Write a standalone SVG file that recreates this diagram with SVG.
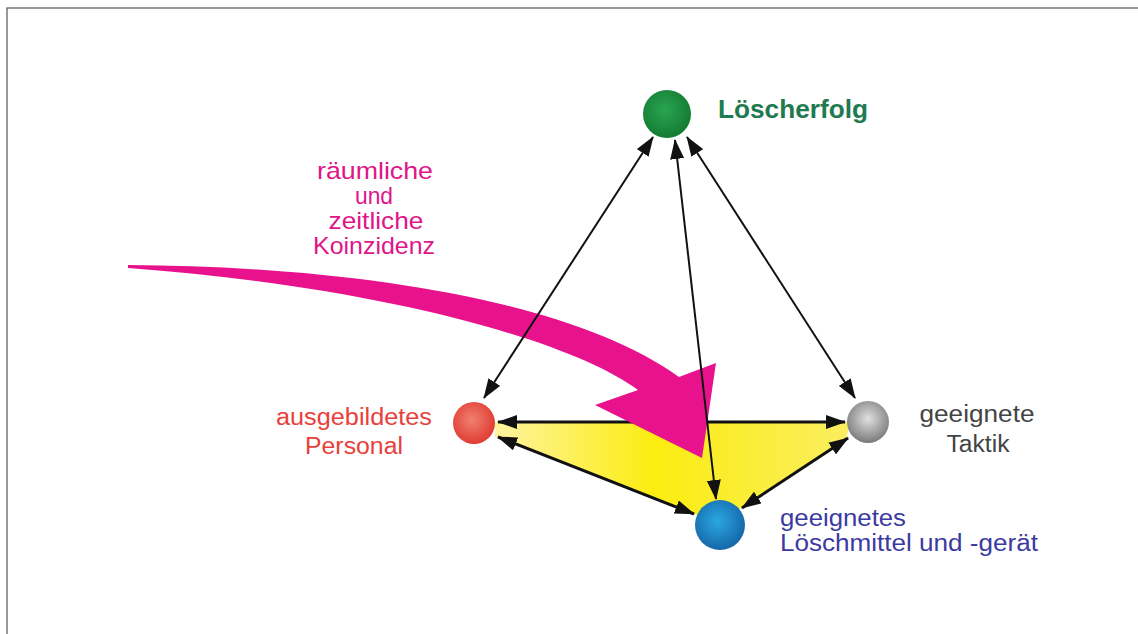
<svg xmlns="http://www.w3.org/2000/svg" width="1138" height="634" viewBox="0 0 1138 634">
  <style>
    .lbl { font-family: "Liberation Sans", Arial, sans-serif; font-size: 23px; }
    .c { stroke: #111; fill: none; }
    .thin { stroke-width: 2; }
    .thick { stroke-width: 3; }
  </style>
  <defs>
    <marker id="ah" viewBox="0 0 20 14" refX="19" refY="7" markerWidth="20" markerHeight="14" markerUnits="userSpaceOnUse" orient="auto-start-reverse">
      <path d="M0,0 L20,7 L0,14 z" fill="#111"/>
    </marker>
    <radialGradient id="gGreen" cx="0.45" cy="0.42" r="0.6">
      <stop offset="0" stop-color="#2aa552"/>
      <stop offset="1" stop-color="#137a30"/>
    </radialGradient>
    <radialGradient id="gRed" cx="0.45" cy="0.42" r="0.6">
      <stop offset="0" stop-color="#f08070"/>
      <stop offset="1" stop-color="#e03a30"/>
    </radialGradient>
    <radialGradient id="gGray" cx="0.5" cy="0.42" r="0.6">
      <stop offset="0" stop-color="#e0e0e0"/>
      <stop offset="1" stop-color="#777"/>
    </radialGradient>
    <radialGradient id="gBlue" cx="0.45" cy="0.42" r="0.6">
      <stop offset="0" stop-color="#2aa8e0"/>
      <stop offset="1" stop-color="#1565a8"/>
    </radialGradient>
    <linearGradient id="gYel" x1="0" y1="0" x2="1" y2="0">
      <stop offset="0" stop-color="#fff4a0"/>
      <stop offset="0.45" stop-color="#fbec10"/>
      <stop offset="1" stop-color="#faee60"/>
    </linearGradient>
  </defs>

  <rect x="7" y="8" width="1140" height="640" fill="#fff" stroke="#555" stroke-width="1.2"/>

  <polygon id="field" points="495,422 850,422 846,440 742,508 700,516 495,437" fill="url(#gYel)"/>

  <g id="connectors">
    <line class="c thick" x1="498" y1="422" x2="845" y2="422" marker-start="url(#ah)" marker-end="url(#ah)"/>
    <path id="coincidence-arrow" fill="#e8138c" d="M128,265 C330,266 565,295 679,377 L716,363 L702,458 L595,405 L638,390 C570,340 380,287 128,268 Z"/>
    <line class="c thin" x1="653" y1="137" x2="484" y2="398" marker-start="url(#ah)" marker-end="url(#ah)"/>
    <line class="c thin" x1="675" y1="140" x2="716" y2="499" marker-start="url(#ah)" marker-end="url(#ah)"/>
    <line class="c thin" x1="687" y1="137" x2="855" y2="398" marker-start="url(#ah)" marker-end="url(#ah)"/>
    <line class="c thick" x1="498" y1="437" x2="694" y2="514" marker-start="url(#ah)" marker-end="url(#ah)"/>
    <line class="c thick" x1="848" y1="438" x2="742" y2="508" marker-start="url(#ah)" marker-end="url(#ah)"/>
  </g>

  <g id="node-loescherfolg">
    <circle cx="667" cy="114" r="24" fill="url(#gGreen)"/>
    <text x="718" y="118" class="lbl" style="font-size:26px;font-weight:bold" fill="#1f7a4f" textLength="150" lengthAdjust="spacingAndGlyphs">Löscherfolg</text>
  </g>
  <g id="node-personal">
    <circle cx="474" cy="423" r="21" fill="url(#gRed)"/>
    <text x="354" y="425" class="lbl" text-anchor="middle" fill="#e8403a" textLength="156" lengthAdjust="spacingAndGlyphs">ausgebildetes</text>
    <text x="354" y="454" class="lbl" text-anchor="middle" fill="#e8403a" textLength="98" lengthAdjust="spacingAndGlyphs">Personal</text>
  </g>
  <g id="node-taktik">
    <circle cx="868" cy="422" r="21" fill="url(#gGray)"/>
    <text x="977" y="422" class="lbl" text-anchor="middle" fill="#444" textLength="115" lengthAdjust="spacingAndGlyphs">geeignete</text>
    <text x="978" y="452" class="lbl" text-anchor="middle" fill="#444" textLength="63" lengthAdjust="spacingAndGlyphs">Taktik</text>
  </g>
  <g id="node-loeschmittel">
    <circle cx="720" cy="525" r="25" fill="url(#gBlue)"/>
    <text x="780" y="526" class="lbl" fill="#3b3aa3" textLength="126" lengthAdjust="spacingAndGlyphs">geeignetes</text>
    <text x="780" y="551" class="lbl" fill="#3b3aa3" textLength="258" lengthAdjust="spacingAndGlyphs">Löschmittel und -gerät</text>
  </g>
  <g id="label-koinzidenz" style="font-size:24px">
    <text x="375" y="179" class="lbl" style="font-size:24px" text-anchor="middle" fill="#e0158a" textLength="116" lengthAdjust="spacingAndGlyphs">räumliche</text>
    <text x="374" y="204" class="lbl" style="font-size:24px" text-anchor="middle" fill="#e0158a" textLength="38" lengthAdjust="spacingAndGlyphs">und</text>
    <text x="376" y="229" class="lbl" style="font-size:24px" text-anchor="middle" fill="#e0158a" textLength="95" lengthAdjust="spacingAndGlyphs">zeitliche</text>
    <text x="374" y="254" class="lbl" style="font-size:24px" text-anchor="middle" fill="#e0158a" textLength="122" lengthAdjust="spacingAndGlyphs">Koinzidenz</text>
  </g>
</svg>
